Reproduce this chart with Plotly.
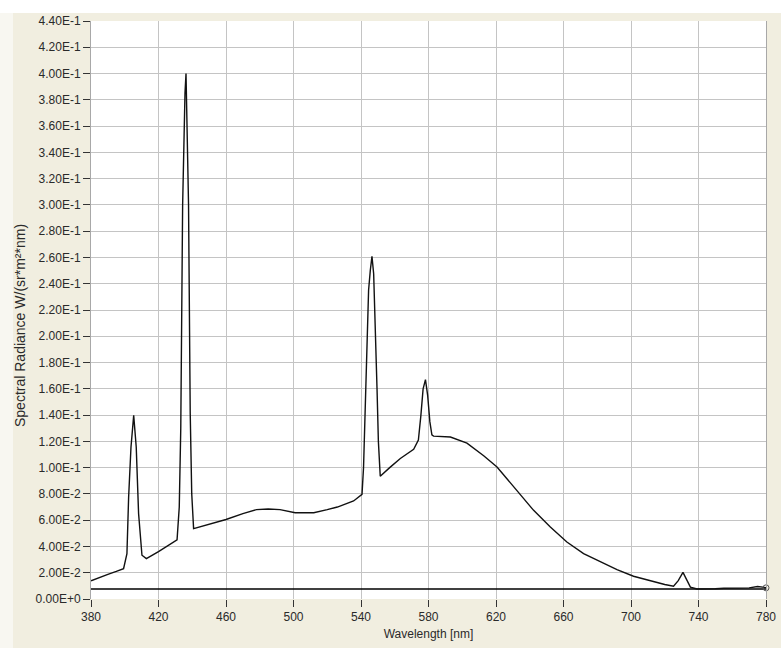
import plotly.graph_objects as go

# ---- data ----
wavelength_nm = [380, 385, 390, 395, 399.3, 401.3, 402.3, 403.7, 405.3, 406.8, 408.2, 410.2, 412.8,
                 420, 425, 431, 432.3, 433.2, 434.3, 434.9, 435.7, 436.3, 436.7, 437.2, 437.8, 438.8,
                 439.7, 440.8, 450, 460, 470, 478, 485, 492, 501, 512, 520, 526, 535.6, 540.6,
                 541.5, 542.5, 543.5, 544.5, 545.5, 546.5, 547.5, 548.5, 549.5, 550.3, 551.4,
                 557, 563.3, 571.2, 574, 575.5, 576.8, 578.2, 579.5, 580.8, 582, 583,
                 593, 602.8, 612.7, 620.6, 632.4, 642.3, 652.2, 662, 671.9, 681.8, 691.7, 701.5,
                 711.4, 720, 725.2, 728, 730.8, 733, 735.2, 739.1, 745, 750, 755, 760, 765, 770,
                 775, 778, 780]
radiance = [0.0138, 0.0160, 0.0188, 0.0210, 0.0231, 0.0345, 0.0776, 0.1157, 0.1398, 0.1157, 0.0650,
            0.0333, 0.0307,
            0.0360, 0.0400, 0.0450, 0.0700, 0.1300, 0.3000, 0.3500, 0.3850, 0.4000, 0.3700, 0.3500,
            0.3000, 0.1410, 0.0800, 0.0536, 0.0570, 0.0605, 0.0650, 0.0680, 0.0685, 0.0680, 0.0657,
            0.0657, 0.0680, 0.0700, 0.0746, 0.0797,
            0.1000, 0.1500, 0.2000, 0.2350, 0.2500, 0.2608, 0.2476, 0.2100, 0.1600, 0.1200, 0.0934,
            0.1000, 0.1070, 0.1140, 0.1210, 0.1400, 0.1600, 0.1670, 0.1550, 0.1350, 0.1250, 0.1240,
            0.1233, 0.1187, 0.1090, 0.1005, 0.0827, 0.0675, 0.0548, 0.0434, 0.0345, 0.0282, 0.0224,
            0.0173, 0.0137, 0.0110, 0.0097, 0.0140, 0.0203, 0.0140, 0.0091, 0.0076, 0.0075, 0.0078,
            0.0082, 0.0080, 0.0083, 0.0085, 0.0095, 0.0090, 0.0085]
baseline_wl = [380, 780]
baseline_val = [0.0076, 0.0076]

x_tick_values = [380, 420, 460, 500, 540, 580, 620, 660, 700, 740, 780]
y_tick_values = [0.00, 0.02, 0.04, 0.06, 0.08, 0.10, 0.12, 0.14, 0.16, 0.18, 0.20, 0.22,
                 0.24, 0.26, 0.28, 0.30, 0.32, 0.34, 0.36, 0.38, 0.40, 0.42, 0.44]
y_tick_labels = ["0.00E+0", "2.00E-2", "4.00E-2", "6.00E-2", "8.00E-2", "1.00E-1", "1.20E-1",
                 "1.40E-1", "1.60E-1", "1.80E-1", "2.00E-1", "2.20E-1", "2.40E-1", "2.60E-1",
                 "2.80E-1", "3.00E-1", "3.20E-1", "3.40E-1", "3.60E-1", "3.80E-1", "4.00E-1",
                 "4.20E-1", "4.40E-1"]

x_title = "Wavelength [nm]"
y_title = "Spectral Radiance W/(sr*m²*nm)"

# ---- figure ----
W, H = 781, 648
ML, MR, MT, MB = 91, 15, 21, 49
pw = W - ML - MR
ph = H - MT - MB

FONT = "Liberation Sans, Arial, sans-serif"
TXT = "#2a2a2a"
GRID = "#c4c4c4"
BEIGE = "#f1eee0"


def px_x(p):
    return (p - ML) / pw


def px_y(p):
    return (H - MB - p) / ph


fig = go.Figure()
fig.add_trace(go.Scatter(x=baseline_wl, y=baseline_val, mode="lines",
                         line=dict(color="#000000", width=1.5), hoverinfo="skip",
                         showlegend=False))
fig.add_trace(go.Scatter(x=wavelength_nm, y=radiance, mode="lines",
                         line=dict(color="#111111", width=1.4), showlegend=False))
fig.add_trace(go.Scatter(x=wavelength_nm[-1:], y=radiance[-1:], mode="markers",
                         marker=dict(symbol="circle-open", size=6, color="#555555",
                                     line=dict(width=1)),
                         showlegend=False, cliponaxis=False))

# light strips at the top and left edge of the window (outside the plot area)
fig.add_shape(type="rect", xref="paper", yref="paper", layer="below",
              x0=px_x(0), x1=px_x(W), y0=px_y(13), y1=px_y(0),
              fillcolor="#ffffff", line=dict(width=0))
fig.add_shape(type="rect", xref="paper", yref="paper", layer="below",
              x0=px_x(0), x1=px_x(13), y0=px_y(H), y1=px_y(13),
              fillcolor="#f8f7f1", line=dict(width=0))

fig.add_annotation(text=y_title, xref="paper", yref="paper", x=px_x(20), y=px_y(326),
                   textangle=-90, showarrow=False, xanchor="center", yanchor="middle",
                   font=dict(family=FONT, size=14, color=TXT))

fig.update_layout(
    width=W, height=H,
    margin=dict(l=ML, r=MR, t=MT, b=MB, pad=0),
    paper_bgcolor=BEIGE,
    plot_bgcolor="#ffffff",
    font=dict(family=FONT, size=12, color=TXT),
    xaxis=dict(range=[380, 780], tickvals=x_tick_values, showgrid=True, gridcolor=GRID,
               gridwidth=1, zeroline=False, showline=False, ticks="outside", ticklen=7,
               tickcolor="#333333", tickfont=dict(family=FONT, size=12, color=TXT),
               automargin=False,
               title=dict(text=x_title, font=dict(family=FONT, size=12, color=TXT), standoff=6)),
    yaxis=dict(range=[0, 0.44], tickvals=y_tick_values, ticktext=y_tick_labels, showgrid=True,
               gridcolor=GRID, gridwidth=1, zeroline=False, showline=True, mirror=True,
               linecolor="#a8a8a8", linewidth=1, ticks="outside", ticklen=7,
               tickcolor="#333333", tickfont=dict(family=FONT, size=12, color=TXT),
               automargin=False),
    showlegend=False,
)

fig.write_html("out.html",
               config={"displayModeBar": False},
               post_script="document.body.style.margin='0';document.body.style.padding='0';"
                           "document.body.style.overflow='hidden';")
